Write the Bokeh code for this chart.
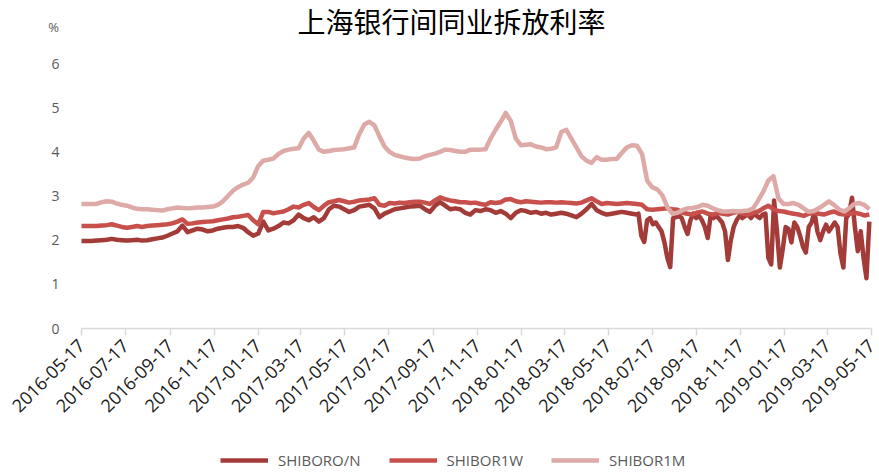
import numpy as np
import pandas as pd
from bokeh.plotting import figure
from bokeh.models import (Range1d, FixedTicker, DatetimeTickFormatter, Label,
                          Legend, LegendItem)
from bokeh.embed import file_html
from bokeh.resources import INLINE

# ---------------- data ----------------
title_text = "上海银行间同业拆放利率"
unit_text = "%"
series_names = ["SHIBORO/N", "SHIBOR1W", "SHIBOR1M"]
tick_labels = ["2016-05-17", "2016-07-17", "2016-09-17", "2016-11-17",
               "2017-01-17", "2017-03-17", "2017-05-17", "2017-07-17",
               "2017-09-17", "2017-11-17", "2018-01-17", "2018-03-17",
               "2018-05-17", "2018-07-17", "2018-09-17", "2018-11-17",
               "2019-01-17", "2019-03-17", "2019-05-17"]
y_ticks = [0, 1, 2, 3, 4, 5, 6]

weekly_start = "2016-05-17"      # weekly observations
on_fine_start = "2018-06-28"     # O/N sampled every 4 days from here

shibor_1m = [
    2.82, 2.82, 2.82, 2.82, 2.86, 2.88, 2.87, 2.83, 2.80, 2.78,
    2.74, 2.71, 2.70, 2.70, 2.69, 2.68, 2.67, 2.70, 2.72, 2.74,
    2.73, 2.72, 2.73, 2.74, 2.74, 2.75, 2.76, 2.80, 2.88, 3.00,
    3.12, 3.20, 3.26, 3.30, 3.42, 3.68, 3.80, 3.82, 3.85, 3.95,
    4.02, 4.05, 4.07, 4.08, 4.30, 4.43, 4.25, 4.05, 4.00, 4.02,
    4.04, 4.05, 4.06, 4.08, 4.10, 4.40, 4.62, 4.68, 4.60, 4.35,
    4.12, 4.00, 3.93, 3.90, 3.87, 3.85, 3.84, 3.85, 3.90, 3.93,
    3.96, 4.00, 4.05, 4.04, 4.02, 4.00, 4.00, 4.05, 4.05, 4.05,
    4.06, 4.30, 4.50, 4.68, 4.88, 4.70, 4.30, 4.15, 4.16, 4.17,
    4.12, 4.10, 4.06, 4.07, 4.10, 4.45, 4.50, 4.30, 4.10, 3.90,
    3.80, 3.75, 3.88, 3.82, 3.82, 3.84, 3.84, 3.98, 4.10, 4.15,
    4.14, 3.95, 3.35, 3.20, 3.15, 3.02, 2.75, 2.60, 2.62,
    2.68, 2.72, 2.73, 2.75, 2.80, 2.78, 2.72, 2.68, 2.65, 2.65,
    2.66, 2.65, 2.66, 2.67, 2.72, 2.90, 3.10, 3.35, 3.45, 2.95,
    2.82, 2.82, 2.84, 2.80, 2.72, 2.64, 2.66, 2.72, 2.80, 2.88,
    2.80, 2.70, 2.65, 2.72, 2.82, 2.84, 2.80, 2.70]

shibor_1w = [
    2.32, 2.32, 2.32, 2.32, 2.33, 2.34, 2.36, 2.33, 2.30, 2.28,
    2.30, 2.32, 2.30, 2.32, 2.33, 2.34, 2.35, 2.36, 2.38, 2.42,
    2.47, 2.37, 2.38, 2.40, 2.41, 2.42, 2.43, 2.45, 2.47, 2.49,
    2.52, 2.53, 2.55, 2.57, 2.45, 2.36, 2.64, 2.64, 2.61, 2.63,
    2.65, 2.70, 2.76, 2.74, 2.80, 2.84, 2.75, 2.68, 2.78, 2.86,
    2.88, 2.91, 2.88, 2.85, 2.87, 2.90, 2.91, 2.92, 2.95, 2.80,
    2.78, 2.84, 2.83, 2.85, 2.84, 2.86, 2.87, 2.87, 2.85, 2.82,
    2.90, 2.97, 2.93, 2.90, 2.88, 2.86, 2.86, 2.84, 2.85, 2.82,
    2.80, 2.86, 2.84, 2.86, 2.92, 2.93, 2.88, 2.86, 2.88, 2.87,
    2.86, 2.85, 2.86, 2.86, 2.85, 2.86, 2.85, 2.84, 2.83, 2.85,
    2.90, 2.95, 2.88, 2.82, 2.84, 2.83, 2.82, 2.83, 2.84, 2.83,
    2.82, 2.80, 2.70, 2.69, 2.70, 2.71, 2.72, 2.70, 2.69,
    2.62, 2.60, 2.58, 2.63, 2.65, 2.60, 2.58, 2.62, 2.60, 2.58,
    2.62, 2.64, 2.60, 2.58, 2.62, 2.65, 2.72, 2.78, 2.70, 2.66,
    2.65, 2.62, 2.60, 2.58, 2.55, 2.60, 2.62, 2.60, 2.58, 2.62,
    2.65, 2.60, 2.58, 2.60, 2.62, 2.60, 2.56, 2.58]

shibor_on_weekly = [
    1.98, 1.98, 1.98, 1.99, 2.00, 2.01, 2.03, 2.01, 2.00, 1.99,
    2.00, 2.01, 1.99, 2.00, 2.02, 2.04, 2.06, 2.10, 2.15, 2.20,
    2.33, 2.18, 2.22, 2.26, 2.24, 2.20, 2.22, 2.26, 2.28, 2.30,
    2.30, 2.32, 2.28, 2.18, 2.10, 2.15, 2.42, 2.22, 2.26, 2.32,
    2.40, 2.38, 2.45, 2.58, 2.50, 2.45, 2.52, 2.42, 2.50, 2.70,
    2.78, 2.76, 2.70, 2.64, 2.68, 2.76, 2.78, 2.80, 2.72, 2.52,
    2.60, 2.65, 2.70, 2.72, 2.74, 2.76, 2.77, 2.78, 2.70, 2.64,
    2.78, 2.86, 2.78, 2.70, 2.72, 2.70, 2.62, 2.58, 2.68, 2.66,
    2.70, 2.68, 2.62, 2.66, 2.60, 2.50, 2.62, 2.68, 2.66, 2.62,
    2.64, 2.60, 2.62, 2.58, 2.60, 2.62, 2.60, 2.56, 2.52, 2.60,
    2.70, 2.82, 2.68, 2.62, 2.58, 2.60, 2.62, 2.64, 2.62, 2.60,
    2.58]

shibor_on_fine = [
    2.60, 2.10, 1.96, 2.45, 2.50, 2.36, 2.40, 2.30, 2.20, 1.95,
    1.60, 1.39, 2.50, 2.52, 2.55, 2.50, 2.30, 2.14, 2.45, 2.60,
    2.50, 2.55, 2.45, 2.30, 2.05, 2.55, 2.50, 2.55, 2.48, 2.40,
    2.20, 1.55, 2.00, 2.30, 2.45, 2.55, 2.50, 2.55, 2.58, 2.50,
    2.60, 2.55, 2.50, 2.58, 2.60, 1.60, 1.45, 2.90, 2.20, 1.38,
    1.80, 2.30, 2.25, 1.95, 2.40, 2.30, 2.10, 1.85, 1.72, 2.30,
    2.40, 2.65, 2.20, 2.00, 2.20, 2.35, 2.20, 2.30, 2.40, 2.30,
    1.70, 1.38, 2.50, 2.60, 2.96, 2.30, 1.75, 2.20, 1.60, 1.14,
    2.42]

colors = ["#A33B38", "#C8504C", "#DDAAA8"]

# ---------------- layout (pixels) ----------------
W, H = 879, 474
AX_L, AX_R = 81, 871          # pixel of first / last date tick
AX_TOP, AX_BOT = 63, 328      # pixel of y = 6 / y = 0

# ---------------- derived x values ----------------
dates_w = pd.date_range(weekly_start, periods=len(shibor_1m), freq="7D")
dates_on = (list(pd.date_range(weekly_start, periods=len(shibor_on_weekly), freq="7D"))
            + list(pd.date_range(on_fine_start, periods=len(shibor_on_fine), freq="4D")))
vals_on = shibor_on_weekly + shibor_on_fine

tick_dates = pd.to_datetime(tick_labels)
tick_ms = [(d - pd.Timestamp("1970-01-01")).total_seconds() * 1000.0 for d in tick_dates]

ms_per_px = (tick_ms[-1] - tick_ms[0]) / (AX_R - AX_L)
x_start = tick_ms[0] - AX_L * ms_per_px
x_end = tick_ms[-1] + (W - AX_R) * ms_per_px
u_per_px = (y_ticks[-1] - y_ticks[0]) / (AX_BOT - AX_TOP)
y_start = y_ticks[0] - (H - AX_BOT) * u_per_px
y_end = y_ticks[-1] + AX_TOP * u_per_px

# ---------------- figure ----------------
p = figure(width=W, height=H, x_axis_type="datetime", title=None,
           x_range=Range1d(x_start, x_end), y_range=Range1d(y_start, y_end),
           output_backend="svg", toolbar_location=None, min_border=0)
p.outline_line_color = None
p.xgrid.visible = False
p.ygrid.visible = False
p.background_fill_color = "white"
p.border_fill_color = "white"

r_on = p.line(dates_on, vals_on, line_color=colors[0], line_width=4.5, line_join="round")
r_1w = p.line(dates_w, shibor_1w, line_color=colors[1], line_width=4.5, line_join="round")
r_1m = p.line(dates_w, shibor_1m, line_color=colors[2], line_width=4.5, line_join="round")

# x axis, drawn at y = 0
xa = p.xaxis[0]
xa.fixed_location = 0
xa.bounds = (tick_ms[0], tick_ms[-1])
xa.ticker = FixedTicker(ticks=tick_ms)
fmt = "%Y-%m-%d"
xa.formatter = DatetimeTickFormatter(milliseconds=fmt, seconds=fmt, minsec=fmt,
                                     minutes=fmt, hourmin=fmt, hours=fmt,
                                     days=fmt, months=fmt, years=fmt)
xa.major_label_orientation = np.pi / 4
xa.axis_line_color = "#D9D9D9"
xa.axis_line_width = 1.5
xa.major_tick_line_color = "#D9D9D9"
xa.major_tick_line_width = 1.5
xa.major_tick_in = 0
xa.major_tick_out = 7
xa.minor_tick_line_color = None
xa.major_label_text_font = "Open Sans"
xa.major_label_text_font_size = "18px"
xa.major_label_text_color = "#1a1a1a"
xa.major_label_standoff = 7

# y axis, drawn at the first date
ya = p.yaxis[0]
ya.fixed_location = tick_ms[0]
ya.bounds = (y_ticks[0], y_ticks[-1])
ya.ticker = FixedTicker(ticks=y_ticks)
ya.axis_line_color = None
ya.major_tick_line_color = None
ya.minor_tick_line_color = None
ya.major_tick_in = 0
ya.major_tick_out = 0
ya.major_label_text_font = "Open Sans"
ya.major_label_text_font_size = "14px"
ya.major_label_text_color = "#595959"
ya.major_label_standoff = 22

# title and unit
p.add_layout(Label(x=451, y=H - 20.5, x_units="screen", y_units="screen",
                   text=title_text, text_align="center", text_baseline="middle",
                   text_font="Noto Sans CJK SC", text_font_size="28px",
                   text_font_style="normal", text_color="#000000"))
p.add_layout(Label(x=53, y=H - 26, x_units="screen", y_units="screen",
                   text=unit_text, text_align="center", text_baseline="middle",
                   text_font="Open Sans", text_font_size="13px",
                   text_color="#595959"))

legend = Legend(items=[LegendItem(label=series_names[0], renderers=[r_on]),
                       LegendItem(label=series_names[1], renderers=[r_1w]),
                       LegendItem(label=series_names[2], renderers=[r_1m])],
                orientation="horizontal", location=(220, H - 470),
                glyph_width=48, glyph_height=16, label_height=16,
                label_standoff=10, spacing=28, padding=0, margin=0,
                border_line_color=None, background_fill_alpha=0,
                label_text_font="Open Sans", label_text_font_size="15px",
                label_text_color="#595959")
p.add_layout(legend, "center")

open("out.html", "w").write(file_html(p, INLINE))
